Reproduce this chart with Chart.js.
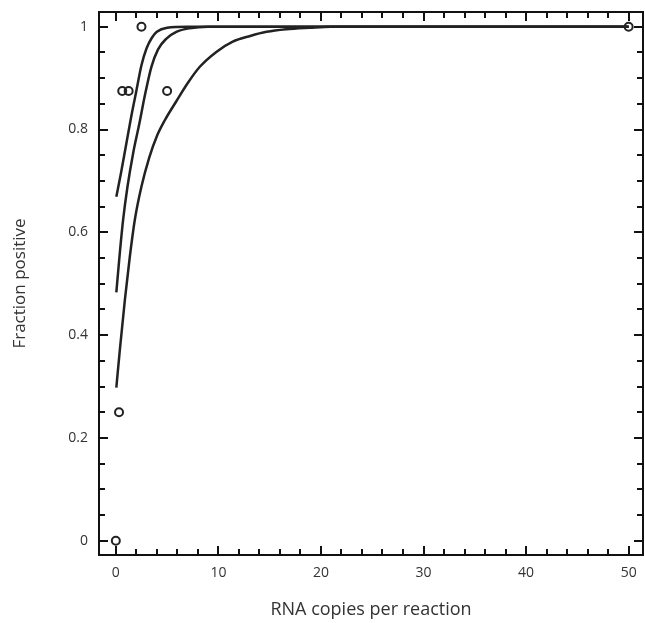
<!DOCTYPE html>
<html>
<head>
<meta charset="utf-8">
<script src="https://cdn.jsdelivr.net/npm/chart.js@4/dist/chart.umd.min.js"></script>
<style>
  html, body { margin: 0; padding: 0; background: #fff; }
  #wrap { width: 645px; height: 623px; }
</style>
</head>
<body>
<div id="wrap"><canvas id="chart" width="645" height="623"></canvas></div>
<script>
// Observed fraction of positive replicates per dilution
const obsX = [0, 0.3125, 0.625, 1.25, 2.5, 5, 50];
const obsY = [0, 0.25, 0.875, 0.875, 1, 0.875, 1];

// Fitted curves
const fitHighX = [0.05, 0.5, 1.0, 1.5, 2.0, 2.5, 3.0, 3.5, 4.0, 5.0, 7.0, 50];
const fitHighY = [0.669, 0.715, 0.77, 0.825, 0.875, 0.925, 0.958, 0.978, 0.99, 0.998, 1, 1];

const fitMidX = [0.05, 0.33, 0.71, 1.14, 1.69, 2.3, 2.83, 3.47, 4.12, 4.94, 5.9, 7.2, 9, 50];
const fitMidY = [0.483, 0.547, 0.624, 0.689, 0.754, 0.812, 0.866, 0.922, 0.956, 0.977, 0.99, 0.997, 1, 1];

const fitLowX = [0.05, 0.39, 0.88, 1.35, 1.85, 2.5, 3.25, 4.0, 4.78, 5.9, 7.0, 8.19, 9.8, 11.4, 13.1, 14.7, 16.6, 18.9, 21, 50];
const fitLowY = [0.298, 0.371, 0.468, 0.55, 0.624, 0.689, 0.745, 0.787, 0.818, 0.855, 0.89, 0.922, 0.951, 0.971, 0.982, 0.99, 0.995, 0.998, 1, 1];

// Axis ticks
const xTicks = [0, 10, 20, 30, 40, 50];
const yTicks = [0, 0.2, 0.4, 0.6, 0.8, 1];
const xMinorStep = 2;
const yMinorStep = 0.05;

const ink = "#222";
const toPoints = (xs, ys) => xs.map((x, i) => ({ x, y: ys[i] }));

const curve = (xs, ys) => ({
  data: toPoints(xs, ys),
  showLine: true,
  borderColor: ink,
  borderWidth: 2.5,
  pointRadius: 0,
  cubicInterpolationMode: "monotone",
  fill: false,
});

// no extra room for overhanging tick labels, the frame sits at fixed edges
const noOverhang = (s) => {
  s.paddingLeft = 0; s.paddingRight = 0; s.paddingTop = 0; s.paddingBottom = 0;
};

// frame with inward major/minor ticks on all four sides
const framePlugin = {
  id: "frame",
  afterDraw(chart) {
    const { ctx, chartArea: a, scales: { x, y } } = chart;
    ctx.save();
    ctx.strokeStyle = "#111";
    ctx.lineWidth = 2;
    ctx.strokeRect(a.left, a.top, a.right - a.left, a.bottom - a.top);
    ctx.beginPath();
    for (let v = 0; v <= 50.001; v += xMinorStep) {
      const px = Math.round(x.getPixelForValue(v));
      const len = Math.abs(v % 10) < 1e-6 ? 9 : 6;
      ctx.moveTo(px, a.bottom); ctx.lineTo(px, a.bottom - len);
      ctx.moveTo(px, a.top); ctx.lineTo(px, a.top + len);
    }
    for (let k = 0; k <= 20; k++) {
      const v = k * yMinorStep;
      const py = Math.round(y.getPixelForValue(v));
      const len = k % 4 === 0 ? 9 : 6;
      ctx.moveTo(a.left, py); ctx.lineTo(a.left + len, py);
      ctx.moveTo(a.right, py); ctx.lineTo(a.right - len, py);
    }
    ctx.stroke();
    ctx.restore();
  },
};

new Chart(document.getElementById("chart"), {
  type: "scatter",
  data: {
    datasets: [
      curve(fitHighX, fitHighY),
      curve(fitMidX, fitMidY),
      curve(fitLowX, fitLowY),
      {
        data: toPoints(obsX, obsY),
        showLine: false,
        pointRadius: 4,
        pointBorderWidth: 2,
        pointBorderColor: ink,
        pointBackgroundColor: "rgba(255,255,255,0)",
      },
    ],
  },
  options: {
    responsive: false,
    animation: false,
    layout: { autoPadding: false, padding: { top: 12, right: 2, left: 0, bottom: 0 } },
    plugins: { legend: { display: false }, tooltip: { enabled: false } },
    scales: {
      x: {
        type: "linear",
        min: -1.64,
        max: 51.4,
        grid: { display: false, drawTicks: false },
        border: { display: false },
        afterBuildTicks: (s) => { s.ticks = xTicks.map((v) => ({ value: v })); },
        afterFit: (s) => { s.height = 68; noOverhang(s); },
        ticks: {
          padding: 10,
          color: "#333",
          font: { family: "Open Sans", size: 14 },
          maxRotation: 0,
          autoSkip: false,
        },
        title: {
          display: true,
          text: "RNA copies per reaction",
          color: "#333",
          font: { family: "Open Sans", size: 18 },
          padding: { top: 0, bottom: 2 },
        },
      },
      y: {
        type: "linear",
        min: -0.0278,
        max: 1.0286,
        grid: { display: false, drawTicks: false },
        border: { display: false },
        afterBuildTicks: (s) => { s.ticks = yTicks.map((v) => ({ value: v })); },
        afterFit: (s) => { s.width = 99; noOverhang(s); },
        ticks: {
          padding: 11,
          color: "#333",
          font: { family: "Open Sans", size: 14 },
          autoSkip: false,
          callback: (v) => String(v),
        },
        title: {
          display: true,
          text: "Fraction positive",
          color: "#333",
          font: { family: "Open Sans", size: 17 },
          padding: { top: 10, bottom: 0 },
        },
      },
    },
  },
  plugins: [framePlugin],
});
</script>
</body>
</html>
